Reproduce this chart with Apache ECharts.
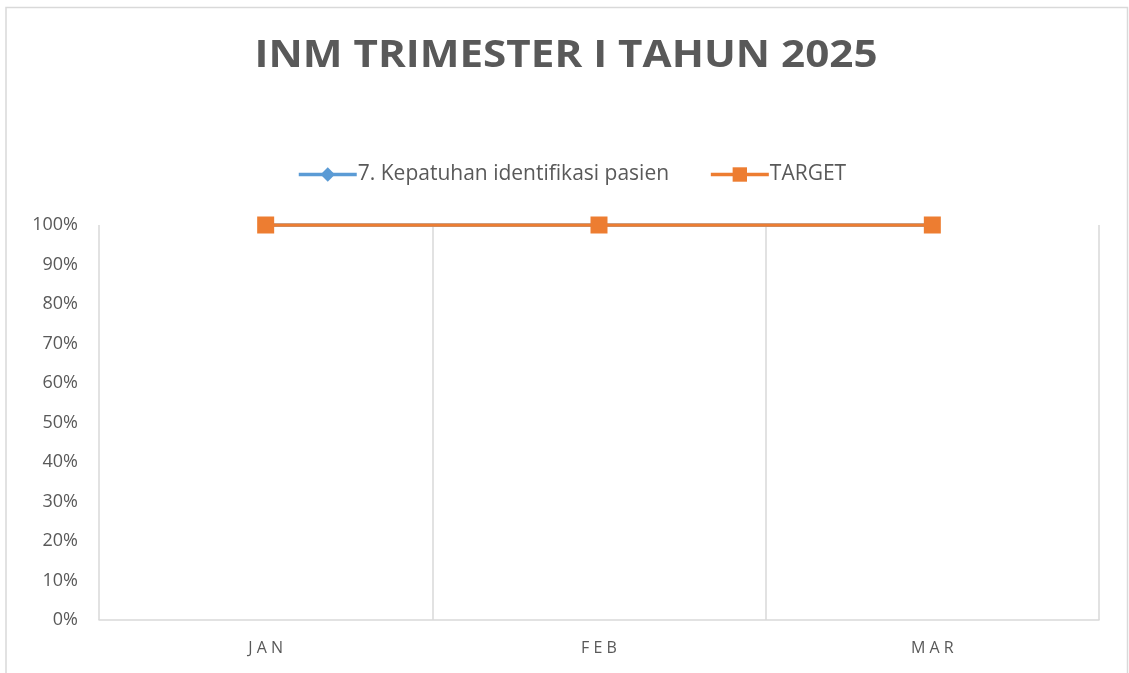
<!DOCTYPE html>
<html>
<head>
<meta charset="utf-8">
<script src="https://cdn.jsdelivr.net/npm/echarts@6/dist/echarts.min.js"></script>
<style>
html,body{margin:0;padding:0;background:#fff;}
#chart{width:1129px;height:673px;}
</style>
</head>
<body>
<div id="chart"></div>
<script>
const titleText = 'INM TRIMESTER I TAHUN 2025';
const categories = ['JAN', 'FEB', 'MAR'];
const seriesNames = ['7. Kepatuhan identifikasi pasien', 'TARGET'];
const kepatuhan = [100, 100, 100];
const target = [100, 100, 100];
const yTicks = [0, 10, 20, 30, 40, 50, 60, 70, 80, 90, 100];

const chart = echarts.init(document.getElementById('chart'));
const font = '"Open Sans", "Noto Sans", sans-serif';
chart.setOption({
  animation: false,
  graphic: [{
    type: 'rect',
    shape: { x: 6, y: 7.5, width: 1121.5, height: 700 },
    style: { fill: 'none', stroke: '#d9d9d9', lineWidth: 1.5 },
    silent: true
  }, {
    type: 'text',
    x: 566,
    y: 38,
    scaleX: 1.14,
    silent: true,
    style: {
      text: titleText,
      fontFamily: font,
      fontWeight: 'bold',
      fontSize: 37,
      fill: '#595959',
      align: 'center',
      verticalAlign: 'top'
    }
  }],
  legend: {
    top: 159,
    left: 292,
    itemWidth: 58,
    itemHeight: 18,
    itemGap: 40,
    lineStyle: { width: 3.5 },
    textStyle: { fontFamily: font, fontSize: 21, color: '#595959', padding: [0, 0, 0, -4] },
    data: seriesNames
  },
  grid: { left: 99, right: 30, top: 225, bottom: 53, containLabel: false },
  xAxis: {
    type: 'category',
    data: categories,
    boundaryGap: true,
    axisLine: { show: true, lineStyle: { color: '#d9d9d9', width: 1.5 } },
    axisTick: { show: false },
    splitLine: { show: true, lineStyle: { color: '#d9d9d9', width: 1.5 } },
    axisLabel: {
      fontFamily: font, fontSize: 16, color: '#595959', margin: 20,
      formatter: v => v.split('').join(' ')
    }
  },
  yAxis: {
    type: 'value',
    min: 0, max: 100, interval: 10,
    axisLine: { show: false },
    axisTick: { show: false },
    splitLine: { show: false },
    axisLabel: {
      fontFamily: font, fontSize: 18, color: '#595959', margin: 21,
      formatter: v => yTicks.includes(v) ? v + '%' : ''
    }
  },
  series: [{
    name: seriesNames[0],
    type: 'line',
    data: kepatuhan,
    symbol: 'diamond',
    symbolSize: 12,
    itemStyle: { color: '#5b9bd5' },
    lineStyle: { color: '#5b9bd5', width: 3.5 }
  }, {
    name: seriesNames[1],
    type: 'line',
    data: target,
    symbol: 'rect',
    symbolSize: 17,
    itemStyle: { color: '#ed7d31' },
    lineStyle: { color: '#ed7d31', width: 3.5 }
  }]
});
</script>
</body>
</html>
